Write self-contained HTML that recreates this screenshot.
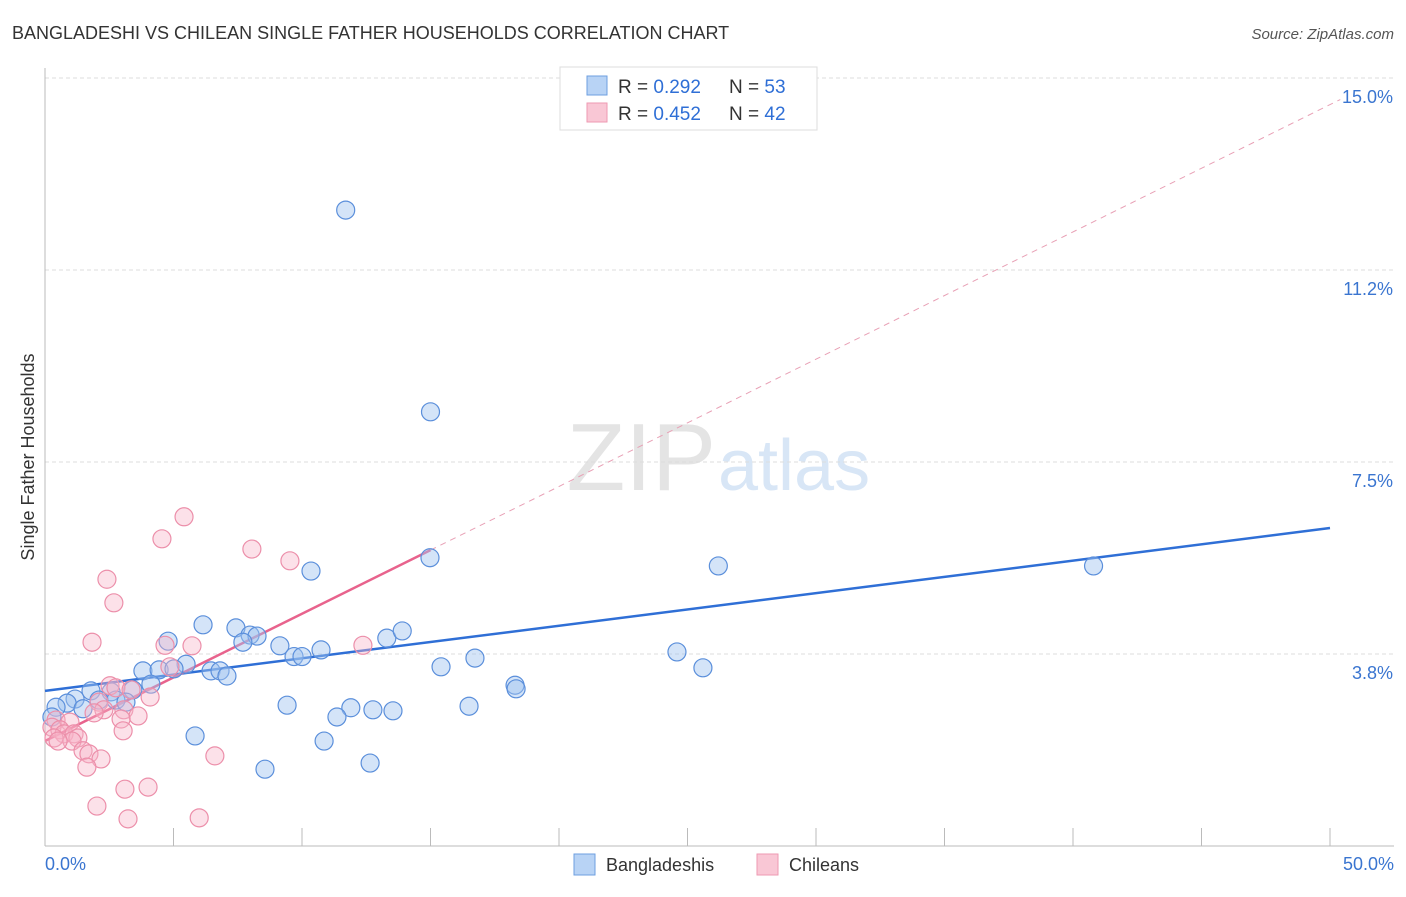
<!DOCTYPE html>
<html><head><meta charset="utf-8"><style>
body{margin:0;background:#fff;font-family:"Liberation Sans",sans-serif;}
svg text{font-family:"Liberation Sans",sans-serif;}
</style></head><body>
<svg width="1406" height="892" xmlns="http://www.w3.org/2000/svg">
<text x="12" y="39" font-size="18" fill="#333">BANGLADESHI VS CHILEAN SINGLE FATHER HOUSEHOLDS CORRELATION CHART</text>
<text x="1394" y="39" font-size="15" fill="#555" font-style="italic" text-anchor="end">Source: ZipAtlas.com</text>
<text x="716" y="490" font-size="96" fill="#e4e4e4" text-anchor="end" font-family="Liberation Serif">ZIP</text>
<text x="718" y="490" font-size="72" fill="#d8e6f6">atlas</text>
<g id="grid"></g>
<line x1="45" y1="68" x2="45" y2="846" stroke="#bbb"/>
<line x1="45" y1="846" x2="1394" y2="846" stroke="#bbb"/>
<g id="xticks"></g>
<text transform="translate(34,457) rotate(-90)" font-size="18" fill="#333" text-anchor="middle">Single Father Households</text>
<g id="trends"></g>
<g id="points"></g>
<g>
<rect x="560" y="67" width="257" height="63" fill="#fff" stroke="#ddd"/>
<rect x="587" y="76" width="20" height="19" fill="#b8d3f5" stroke="#6e9fe0"/>
<text x="618" y="93" font-size="19" fill="#333">R = <tspan fill="#2f6fd6">0.292</tspan></text>
<text x="729" y="93" font-size="19" fill="#333">N = <tspan fill="#2f6fd6">53</tspan></text>
<rect x="587" y="103" width="20" height="19" fill="#f9c7d5" stroke="#ee9ab2"/>
<text x="618" y="120" font-size="19" fill="#333">R = <tspan fill="#2f6fd6">0.452</tspan></text>
<text x="729" y="120" font-size="19" fill="#333">N = <tspan fill="#2f6fd6">42</tspan></text>
</g>
<g>
<rect x="574" y="854" width="21" height="21" fill="#b8d3f5" stroke="#6e9fe0"/>
<text x="606" y="871" font-size="18" fill="#333">Bangladeshis</text></g>
<g>
<rect x="757" y="854" width="21" height="21" fill="#f9c7d5" stroke="#ee9ab2"/>
<text x="789" y="871" font-size="18" fill="#333">Chileans</text></g>
<text x="45" y="870" font-size="18" fill="#3a75d0">0.0%</text>
<text x="1394" y="870" font-size="18" fill="#3a75d0" text-anchor="end">50.0%</text>
</svg>
<script>
const yTicks=[3.75,7.5,11.25,15];
const yTickLabels=["3.8%","7.5%","11.2%","15.0%"];
const xTicks=[0,5,10,15,20,25,30,35,40,45,50];
const blueX=[11.7,15.0,14.98,26.2,40.8,10.35,6.15,7.43,7.98,8.25,7.7,9.14,10.74,13.3,13.9,4.79,9.69,10.0,5.49,3.81,4.44,5.02,6.46,6.81,7.08,15.41,16.73,24.59,25.6,4.12,3.42,1.79,2.57,1.17,0.86,2.1,2.76,3.15,0.43,1.48,9.42,11.9,12.76,13.54,11.36,16.5,18.29,18.33,0.27,5.84,10.86,8.56,12.65];
const blueY=[12.42,8.48,5.63,5.47,5.47,5.37,4.32,4.26,4.12,4.1,3.98,3.91,3.83,4.06,4.2,4.0,3.7,3.7,3.55,3.42,3.44,3.46,3.42,3.42,3.32,3.5,3.67,3.79,3.48,3.16,3.05,3.03,3.01,2.87,2.79,2.85,2.85,2.81,2.71,2.68,2.75,2.7,2.66,2.64,2.52,2.73,3.14,3.07,2.52,2.15,2.05,1.5,1.62];
const pinkX=[5.41,4.55,8.05,9.53,2.41,2.68,1.83,4.67,5.72,12.37,4.86,2.53,2.76,3.35,4.09,2.1,2.29,3.07,3.62,2.96,1.91,0.43,0.97,3.04,0.27,0.58,0.74,1.13,1.28,0.35,1.05,0.51,1.48,1.71,2.18,1.63,6.61,3.11,4.01,2.02,3.23,6.0];
const pinkY=[6.43,6.0,5.8,5.57,5.21,4.75,3.98,3.92,3.91,3.92,3.5,3.13,3.09,3.05,2.91,2.81,2.66,2.66,2.54,2.48,2.6,2.46,2.42,2.25,2.32,2.27,2.19,2.19,2.11,2.11,2.05,2.05,1.86,1.8,1.7,1.54,1.76,1.11,1.15,0.78,0.53,0.55];
const blueTrend=[3.03,6.21];
const pinkTrend=[2.05,14.48];
const pinkSolidEnd=15;
const X=v=>45+v*25.7, Y=v=>846-v*51.2;
const NS="http://www.w3.org/2000/svg";
function mk(t,a,p){const e=document.createElementNS(NS,t);for(const k in a)e.setAttribute(k,a[k]);p.appendChild(e);return e;}
const grid=document.getElementById('grid');
yTicks.forEach((v,i)=>{
 const l=mk('line',{x1:45,x2:1394,y1:Y(v),y2:Y(v),stroke:'#ddd','stroke-dasharray':'4,3'},grid);
 
 
 const t=mk('text',{x:1393,y:Y(v)+25,'font-size':18,fill:'#3a75d0','text-anchor':'end'},grid);
 t.textContent=yTickLabels[i];
 
 
});
const xt=document.getElementById('xticks');
xTicks.forEach(v=>{const l=mk('line',{x1:X(v),x2:X(v),y1:828,y2:846,stroke:'#bbb'},xt);
 
 });
const tr=document.getElementById('trends');
const pAt=x=>pinkTrend[0]+(pinkTrend[1]-pinkTrend[0])*x/50;
let l1=mk('line',{x1:X(0),y1:Y(blueTrend[0]),x2:X(50),y2:Y(blueTrend[1]),stroke:'#2f6fd6','stroke-width':2.5},tr);


let l2=mk('line',{x1:X(0),y1:Y(pAt(0)),x2:X(pinkSolidEnd),y2:Y(pAt(pinkSolidEnd)),stroke:'#e8638d','stroke-width':2.5},tr);


let l3=mk('line',{x1:X(pinkSolidEnd),y1:Y(pAt(pinkSolidEnd)),x2:X(50.4),y2:Y(pAt(50.4)),stroke:'#e8a0b5','stroke-width':1,'stroke-dasharray':'6,5'},tr);


const pts=document.getElementById('points');
blueX.forEach((x,i)=>{const c=mk('circle',{cx:X(x),cy:Y(blueY[i]),r:9,fill:'rgba(160,196,240,0.45)',stroke:'#5b8fdb','stroke-width':1.2},pts);
 
 });
pinkX.forEach((x,i)=>{const c=mk('circle',{cx:X(x),cy:Y(pinkY[i]),r:9,fill:'rgba(248,180,200,0.4)',stroke:'#ec8faa','stroke-width':1.2},pts);
 
 });
</script>
</body></html>
